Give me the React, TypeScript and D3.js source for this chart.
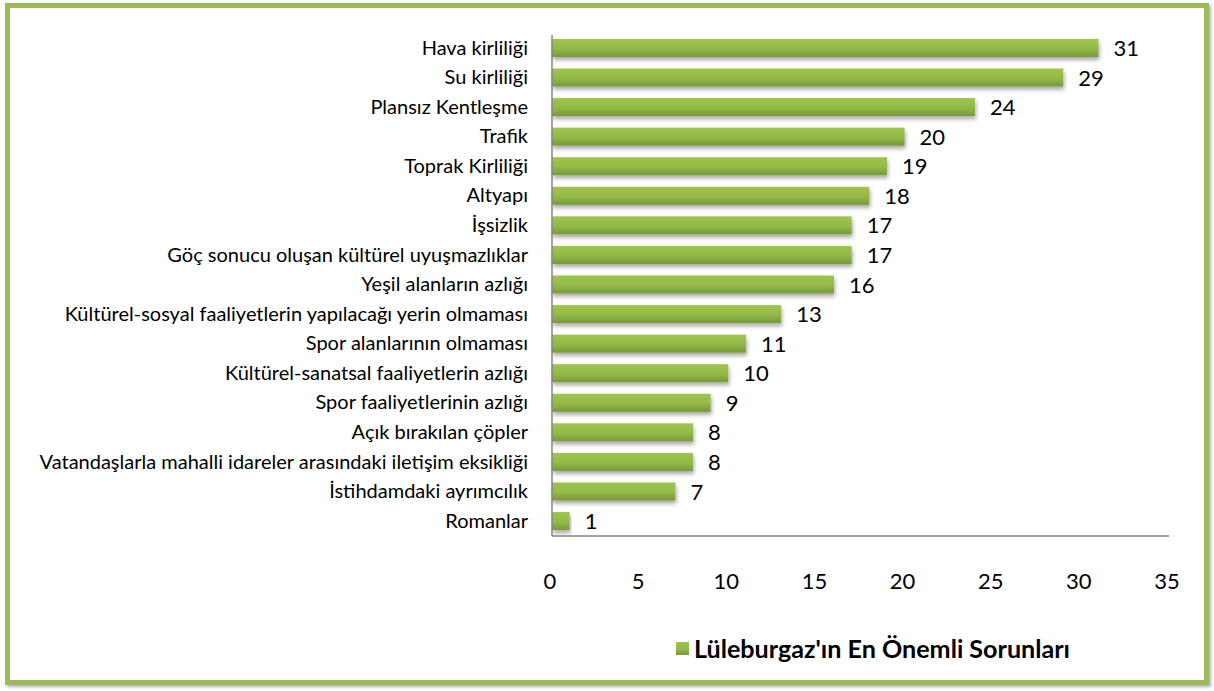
import React from "react";
import * as d3 from "d3";

const categories = [
  "Hava kirliliği",
  "Su kirliliği",
  "Plansız Kentleşme",
  "Trafik",
  "Toprak Kirliliği",
  "Altyapı",
  "İşsizlik",
  "Göç sonucu oluşan kültürel uyuşmazlıklar",
  "Yeşil alanların azlığı",
  "Kültürel-sosyal faaliyetlerin yapılacağı yerin olmaması",
  "Spor alanlarının olmaması",
  "Kültürel-sanatsal faaliyetlerin azlığı",
  "Spor faaliyetlerinin azlığı",
  "Açık bırakılan çöpler",
  "Vatandaşlarla mahalli idareler arasındaki iletişim eksikliği",
  "İstihdamdaki ayrımcılık",
  "Romanlar",
];
const values = [31, 29, 24, 20, 19, 18, 17, 17, 16, 13, 11, 10, 9, 8, 8, 7, 1];
const xTicks = [0, 5, 10, 15, 20, 25, 30, 35];
const seriesName = "Lüleburgaz'ın En Önemli Sorunları";

const FONT = "Lato, 'Noto Sans', sans-serif";

export default function App() {
  const W = 1214, H = 691;
  const x = d3.scaleLinear().domain([0, 35]).range([552, 1169]);
  const y = d3.scaleBand<string>().domain(categories).range([33, 536]).paddingInner(0.39).paddingOuter(0.2);
  const bh = y.bandwidth();
  return (
    <svg width={W} height={H} style={{ position: "absolute", left: 0, top: 0, display: "block" }}>
      <defs>
        <linearGradient id="barg" x1="0" y1="0" x2="0" y2="1">
          <stop offset="0" stopColor="#9fc54e" />
          <stop offset="0.55" stopColor="#93b948" />
          <stop offset="1" stopColor="#78983a" />
        </linearGradient>
        <filter id="sh" x="-5%" y="-20%" width="115%" height="180%">
          <feGaussianBlur in="SourceAlpha" stdDeviation="2" />
          <feOffset dx="1" dy="3" result="b" />
          <feComponentTransfer><feFuncA type="linear" slope="0.35" /></feComponentTransfer>
          <feMerge><feMergeNode /><feMergeNode in="SourceGraphic" /></feMerge>
        </filter>
        <filter id="fsh" x="-2%" y="-2%" width="104%" height="104%">
          <feGaussianBlur in="SourceAlpha" stdDeviation="1.5" />
          <feOffset dx="2" dy="2" />
          <feComponentTransfer><feFuncA type="linear" slope="0.3" /></feComponentTransfer>
          <feMerge><feMergeNode /><feMergeNode in="SourceGraphic" /></feMerge>
        </filter>
      </defs>
      <rect x={0} y={0} width={W} height={H} fill="#fff" />
      <rect x={7.5} y={5.5} width={1199} height={677} fill="#fff" stroke="#9bbb59" strokeWidth={5} filter="url(#fsh)" />
      {categories.map((c, i) => (
        <g key={c}>
          <rect x={x(0)} y={y(c)!} width={x(values[i]) - x(0)} height={bh} fill="url(#barg)" filter="url(#sh)" />
          <text x={x(values[i]) + 15} y={y(c)! + bh / 2} dy="0.37em" fontFamily={FONT} fontSize={22} fill="#000">{values[i]}</text>
          <text x={528} y={y(c)! + bh / 2} dy="0.33em" textAnchor="end" fontFamily={FONT} fontSize={20} fill="#000">{c}</text>
        </g>
      ))}
      <line x1={x(0)} x2={x(0)} y1={35} y2={536} stroke="#868686" strokeWidth={1.5} />
      <line x1={x(0)} x2={x(35)} y1={536} y2={536} stroke="#868686" strokeWidth={1.5} />
      {xTicks.map((t) => (
        <text key={t} x={x(t) - 2} y={581} dy="0.36em" textAnchor="middle" fontFamily={FONT} fontSize={22} fill="#000">{t}</text>
      ))}
      <rect x={676} y={642} width={13} height={13} fill="url(#barg)" />
      <text x={694} y={649} dy="0.36em" fontFamily={FONT} fontSize={25} fontWeight="bold" fill="#000" textLength={376} lengthAdjust="spacingAndGlyphs">{seriesName}</text>
    </svg>
  );
}
